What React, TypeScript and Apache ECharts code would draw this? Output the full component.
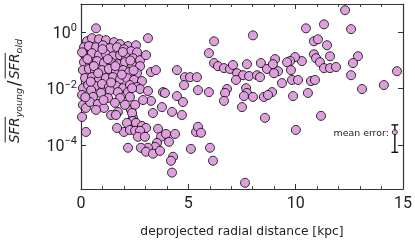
import React, { useEffect, useRef } from "react";
import * as echarts from "echarts";

// x tick labels (kpc) and labelled decades of the ratio
const xTicks = [0, 5, 10, 15];
const yDecades = [-4, -2, 0];

// [deprojected radius (kpc), log10(SFR_young / SFR_old)]
const innerPoints = [
  [0.70, 0.14],
  [0.28, -0.32], [0.51, -0.21], [0.84, -0.25], [1.16, -0.28], [1.54, -0.35], [1.82, -0.42], [2.19, -0.49], [2.56, -0.46],
  [0.14, -0.53], [0.37, -0.49], [0.70, -0.53], [1.02, -0.46], [1.35, -0.56], [1.68, -0.53], [2.00, -0.60], [2.33, -0.67], [2.61, -0.71],
  [0.19, -0.81], [0.51, -0.74], [0.84, -0.81], [1.16, -0.78], [1.49, -0.85], [1.82, -0.81], [2.10, -0.88], [2.42, -0.92], [2.75, -0.99],
  [0.14, -1.06], [0.42, -1.09], [0.75, -1.02], [1.07, -1.09], [1.40, -1.06], [1.72, -1.13], [2.05, -1.06], [2.38, -1.16], [2.75, -1.20],
  [0.09, -1.34], [0.37, -1.30], [0.65, -1.38], [0.98, -1.34], [1.30, -1.30], [1.63, -1.38], [1.96, -1.34], [2.24, -1.41], [2.61, -1.45], [3.03, -0.81],
  [0.19, -1.62], [0.51, -1.59], [0.84, -1.66], [1.16, -1.62], [1.49, -1.59], [1.82, -1.66], [2.14, -1.62], [2.47, -1.69], [2.84, -1.73],
  [0.09, -1.98], [0.33, -1.87], [0.65, -1.90], [0.98, -1.83], [1.30, -1.94], [1.63, -1.90], [1.96, -1.98], [2.28, -1.87], [2.61, -1.94],
  [0.47, -2.05], [0.93, -2.15], [1.35, -2.05], [1.72, -2.12], [2.19, -2.12], [0.56, -2.29], [1.26, -2.33], [1.82, -2.33], [2.28, -2.29],
  [0.09, -2.57], [0.23, -2.68], [0.42, -2.47], [0.79, -2.54], [1.07, -2.68], [1.40, -2.93], [1.72, -2.82], [2.33, -2.75], [2.52, -2.57],
  [2.42, -3.03], [2.05, -2.57], [1.58, -2.50], [0.05, -0.71], [0.05, -2.22],
  [0.30, -0.95], [0.60, -1.20], [1.00, -0.60], [1.25, -0.95], [1.60, -1.20], [1.95, -0.70], [2.30, -1.00], [0.45, -1.75],
  [0.80, -1.45], [1.40, -1.78], [1.90, -1.50], [2.45, -1.35], [0.20, -2.30], [1.05, -2.40], [0.70, -2.75],
];

const midPoints = [
  [3.12, -0.21], [3.26, -1.41], [3.49, -1.34], [4.47, -1.34], [6.20, -0.32], [5.96, -0.74], [8.01, -0.11], [6.20, -1.09],
  [6.38, -1.20], [6.66, -1.27], [6.94, -1.30], [7.08, -1.16], [7.27, -1.45], [7.55, -1.52], [7.73, -1.13], [7.83, -1.55],
  [8.20, -1.52], [8.34, -1.59], [8.38, -1.09], [8.66, -1.30], [7.22, -1.69], [4.84, -1.59], [5.08, -1.59], [5.40, -1.59],
  [4.80, -1.87], [5.45, -2.05], [5.96, -2.12], [6.80, -2.01], [6.71, -2.15], [6.66, -2.43], [7.69, -1.98], [7.73, -2.15],
  [7.59, -2.26], [8.01, -2.29], [8.52, -2.29], [7.50, -2.65], [3.82, -2.12], [3.91, -2.15], [4.47, -2.26], [4.75, -2.47],
  [3.26, -2.43], [2.89, -2.40], [2.75, -2.01], [3.12, -2.08], [2.38, -1.98], [3.77, -2.65], [3.35, -2.86], [4.24, -2.82],
  [4.70, -2.93], [8.57, -3.03], [2.38, -2.86],
];

const lowPoints = [
  [0.05, -3.00], [0.23, -3.53], [1.63, -2.93], [2.42, -3.14], [2.56, -3.21], [2.84, -3.32], [3.03, -3.39], [2.14, -3.21],
  [2.00, -3.53], [1.68, -3.39], [2.28, -3.46], [2.52, -3.49], [2.75, -3.49], [2.65, -3.70], [2.98, -3.70], [3.59, -3.42],
  [3.73, -3.70], [3.96, -3.60], [4.38, -3.60], [4.10, -3.88], [3.54, -3.92], [3.45, -4.06], [3.12, -4.09], [2.79, -4.09],
  [3.03, -4.23], [3.35, -4.30], [3.68, -4.20], [2.19, -4.09], [4.29, -4.41], [4.19, -4.55], [4.24, -4.97], [5.12, -4.13],
  [5.36, -3.53], [5.45, -3.35], [5.59, -3.56], [6.01, -4.09], [6.15, -4.55], [7.64, -5.33],
];

const outerPoints = [
  [12.30, 0.78], [10.48, 0.14], [11.32, 0.28], [12.58, 0.11], [10.85, -0.32], [11.04, -0.25], [11.46, -0.46], [10.85, -0.78],
  [10.95, -0.92], [11.13, -1.06], [11.60, -0.85], [12.90, -0.85], [12.67, -1.09], [11.32, -1.27], [11.60, -1.27], [11.88, -1.23],
  [10.29, -1.02], [9.97, -0.88], [9.74, -1.02], [9.60, -1.06], [9.04, -0.95], [8.94, -1.13], [9.18, -1.38], [8.99, -1.45],
  [9.78, -1.34], [9.36, -1.80], [9.83, -1.69], [10.11, -1.69], [10.71, -1.73], [10.90, -1.69], [12.58, -1.52], [14.72, -1.38],
  [13.09, -2.01], [14.11, -1.87], [10.57, -2.15], [9.88, -2.26], [8.90, -2.12], [8.71, -2.22], [11.18, -2.96], [10.01, -3.46],
];

// mean error marker: position and log-space extents of the bar
const meanErrRadius = 14.62;
const meanErrLog = -3.54;
const meanErrUp = 0.26;
const meanErrDown = 0.71;

const PLUM = "#DDA0DD";
const AXIS = "#333";
const TEXT = "#222";

function measure(text: string, font: string): number {
  const ctx = document.createElement("canvas").getContext("2d")!;
  ctx.font = font;
  return ctx.measureText(text).width;
}

function yTitle() {
  const mainFont = 'italic 13.5px "DejaVu Sans"';
  const subFont = 'italic 9.5px "DejaVu Sans"';
  const slashFont = '17px "DejaVu Sans"';
  const tokens = [
    { t: "SFR", f: mainFont, dy: 0, over: true, gap: 0 },
    { t: "young", f: subFont, dy: 4.5, over: false, gap: 0 },
    { t: "/", f: slashFont, dy: 0, over: false, gap: 1.5 },
    { t: "SFR", f: mainFont, dy: 0, over: true, gap: 0 },
    { t: "old", f: subFont, dy: 4.5, over: false, gap: 0 },
  ];
  const widths = tokens.map((k) => measure(k.t, k.f) + 2 * k.gap);
  const total = widths.reduce((a, b) => a + b, 0);
  let x = -total / 2;
  const children: any[] = [];
  tokens.forEach((k, i) => {
    const w = widths[i] - 2 * k.gap;
    children.push({
      type: "text",
      x: x + k.gap,
      y: k.dy,
      style: { text: k.t, font: k.f, fill: TEXT, align: "left", verticalAlign: "middle" },
    });
    if (k.over) {
      children.push({
        type: "line",
        shape: { x1: x + 0.5, y1: -8.8, x2: x + w + 0.5, y2: -8.8 },
        style: { stroke: TEXT, lineWidth: 1 },
      });
    }
    x += widths[i];
  });
  return { type: "group", x: 14, y: 91, rotation: Math.PI / 2, children };
}

export default function App() {
  const ref = useRef<HTMLDivElement>(null);
  useEffect(() => {
    const chart = echarts.init(ref.current!, null, { renderer: "svg" });
    const allPoints = [...innerPoints, ...midPoints, ...lowPoints, ...outerPoints];
    const axisLine = { show: true, onZero: false, lineStyle: { color: AXIS, width: 1.2 } };
    const axisTick = { show: true, inside: true, length: 5, lineStyle: { color: AXIS, width: 1 } };
    const minorTick = { show: true, splitNumber: 5, length: 3, lineStyle: { color: AXIS, width: 0.9 } };
    const yFormatter = (v: number) => (v === 0 ? "{b|10}{s|0}" : `{b|10}{s|−${Math.abs(v)}}`);
    const option: any = {
      animation: false,
      grid: { left: 81, right: 12, top: 4, bottom: 53, outerBoundsMode: "none", containLabel: false },
      xAxis: [
        {
          type: "value", position: "bottom", min: xTicks[0], max: xTicks[xTicks.length - 1], interval: 5,
          axisLine, axisTick, minorTick, splitLine: { show: false }, minorSplitLine: { show: false },
          axisLabel: { margin: 5, fontFamily: "Roboto", fontSize: 16, color: TEXT, showMinLabel: true, showMaxLabel: true },
          name: "deprojected radial distance [kpc]", nameLocation: "middle", nameGap: 36,
          nameTextStyle: { fontFamily: "DejaVu Sans", fontSize: 12.3, color: TEXT },
        },
        {
          type: "value", position: "top", min: xTicks[0], max: xTicks[xTicks.length - 1], interval: 5,
          axisLine, axisTick, minorTick, splitLine: { show: false }, axisLabel: { show: false },
        },
      ],
      yAxis: [
        {
          type: "value", position: "left", min: -5.55, max: 1,
          axisLine, axisTick: { ...axisTick, customValues: yDecades }, splitLine: { show: false },
          axisLabel: {
            customValues: yDecades, margin: 4, formatter: yFormatter, color: TEXT,
            rich: {
              b: { fontFamily: "Roboto", fontSize: 16, lineHeight: 20, color: TEXT, verticalAlign: "middle" },
              s: { fontFamily: "Roboto", fontSize: 11, lineHeight: 11, padding: [0, 0, 4, 0], color: TEXT, verticalAlign: "top" },
            },
          },
        },
        {
          type: "value", position: "right", min: -5.55, max: 1,
          axisLine, axisTick: { ...axisTick, customValues: yDecades }, splitLine: { show: false },
          axisLabel: { show: false },
        },
      ],
      series: [
        {
          type: "scatter",
          data: allPoints,
          symbol: "circle",
          symbolSize: 9,
          itemStyle: { color: PLUM, borderColor: "#000", borderWidth: 0.8, opacity: 1 },
          emphasis: { disabled: true },
        },
        {
          type: "custom",
          data: [[meanErrRadius, meanErrLog, meanErrUp, meanErrDown]],
          renderItem: (_params: any, api: any) => {
            const p = api.coord([api.value(0), api.value(1)]);
            const top = api.coord([api.value(0), api.value(1) + api.value(2)]);
            const bot = api.coord([api.value(0), api.value(1) - api.value(3)]);
            const cap = 3.4;
            const ls = { stroke: "#000", lineWidth: 1.3 };
            return {
              type: "group",
              children: [
                { type: "line", shape: { x1: p[0], y1: top[1], x2: p[0], y2: bot[1] }, style: ls },
                { type: "line", shape: { x1: p[0] - cap, y1: top[1], x2: p[0] + cap, y2: top[1] }, style: ls },
                { type: "line", shape: { x1: p[0] - cap, y1: bot[1], x2: p[0] + cap, y2: bot[1] }, style: ls },
                { type: "circle", shape: { cx: p[0], cy: p[1], r: 2.5 }, style: { fill: PLUM, stroke: "#000", lineWidth: 0.8 } },
                {
                  type: "text", x: p[0] - 6, y: p[1],
                  style: { text: "mean error:", font: '9.4px "DejaVu Sans"', fill: TEXT, align: "right", verticalAlign: "middle" },
                },
              ],
            };
          },
        },
      ],
      graphic: [yTitle()],
    };
    chart.setOption(option);
    return () => chart.dispose();
  }, []);
  return <div ref={ref} style={{ position: "fixed", left: 0, top: 0, width: 415, height: 242 }} />;
}
